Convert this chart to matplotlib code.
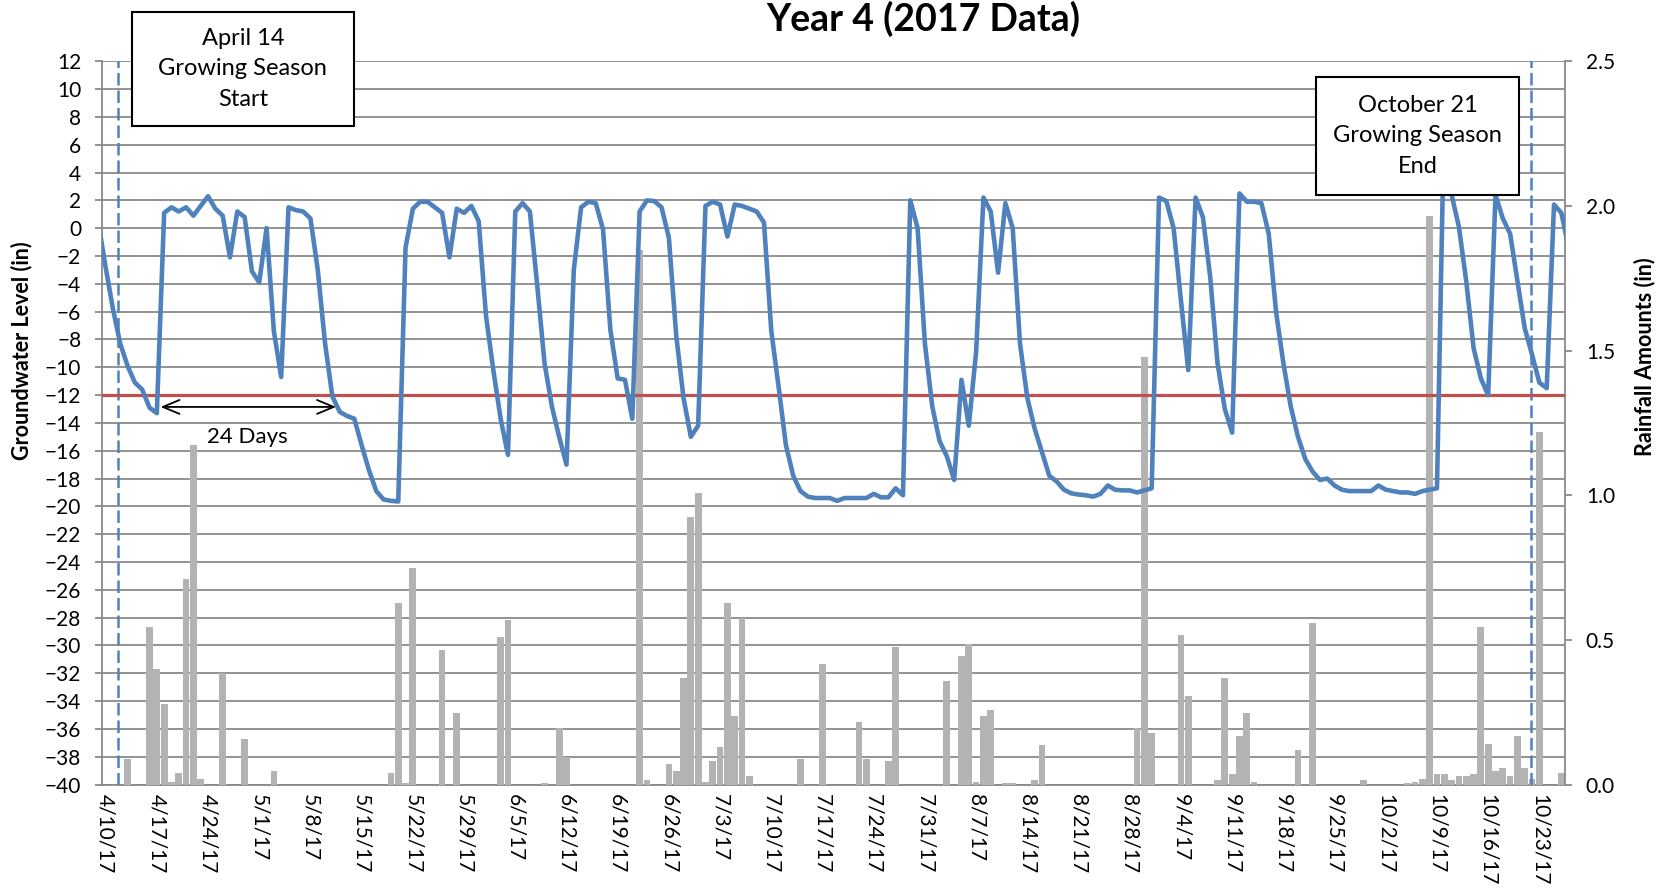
import numpy as np
import pandas as pd
import matplotlib
matplotlib.use("Agg")
import matplotlib.pyplot as plt
from matplotlib.patches import Rectangle
from matplotlib.ticker import FormatStrFormatter

plt.rcParams['font.family'] = ['Lato', 'DejaVu Sans']

# axis runs 4/10/17 .. 10/26/17, one slot per day
start = pd.Timestamp("2017-04-10")
n_days = 200

# daily groundwater level (in), 4/9/17 .. 10/27/17
gw_start = pd.Timestamp("2017-04-09")
groundwater = [
    0.4,
    -2.8, -5.8, -8.3, -9.9, -11.1, -11.6, -12.9,
    -13.3, 1.1, 1.5, 1.2, 1.5, 0.9, 1.6,
    2.3, 1.4, 0.9, -2.1, 1.2, 0.8, -3.1,
    -3.9, 0.0, -7.4, -10.7, 1.5, 1.3, 1.2,
    0.7, -3.0, -8.3, -12.1, -13.2, -13.5, -13.7,
    -15.6, -17.4, -18.9, -19.5, -19.6, -19.65, -1.4,
    1.4, 1.9, 1.9, 1.5, 1.1, -2.1, 1.4,
    1.1, 1.6, 0.5, -6.3, -10.2, -13.7, -16.3,
    1.2, 1.8, 1.2, -4.1, -9.7, -12.8, -15.0,
    -17.0, -3.0, 1.5, 1.9, 1.8, -0.1, -7.3,
    -10.8, -10.9, -13.7, 1.2, 2.0, 1.95, 1.5,
    -0.7, -7.7, -12.2, -15.0, -14.2, 1.6, 1.9,
    1.7, -0.6, 1.7, 1.6, 1.4, 1.2, 0.4,
    -7.4, -11.4, -15.6, -17.8, -18.9, -19.3, -19.4,
    -19.4, -19.4, -19.6, -19.4, -19.4, -19.4, -19.4,
    -19.1, -19.35, -19.35, -18.7, -19.2, 2.0, 0.0,
    -8.3, -12.8, -15.3, -16.4, -18.1, -10.9, -14.2,
    -8.9, 2.2, 1.2, -3.2, 1.8, 0.0, -8.3,
    -12.2, -14.4, -16.1, -17.8, -18.2, -18.8, -19.06,
    -19.15, -19.2, -19.3, -19.1, -18.5, -18.8, -18.85,
    -18.85, -19.0, -18.85, -18.7, 2.2, 1.95, 0.0,
    -5.2, -10.2, 2.2, 0.8, -3.5, -9.7, -13.0,
    -14.7, 2.5, 1.9, 1.9, 1.8, -0.4, -6.0,
    -9.7, -12.8, -15.0, -16.6, -17.5, -18.1, -18.0,
    -18.5, -18.8, -18.9, -18.9, -18.9, -18.9, -18.5,
    -18.8, -18.9, -19.0, -19.0, -19.1, -18.9, -18.8,
    -18.7, 8.5, 2.4, 0.1, -3.8, -8.6, -10.8,
    -12.0, 2.4, 0.7, -0.4, -3.8, -7.2, -9.1,
    -11.1, -11.5, 1.7, 1.1, -1.4,
]

# daily rainfall (in), days with rain only
rain_dates = [
    "4/13", "4/16", "4/17", "4/18", "4/19", "4/20", "4/21", "4/22", "4/23",
    "4/26", "4/29", "5/3", "5/19", "5/20", "5/21", "5/22", "5/26", "5/28",
    "6/3", "6/4", "6/9", "6/11", "6/12", "6/22", "6/23", "6/26", "6/27",
    "6/28", "6/29", "6/30", "7/1", "7/2", "7/3", "7/4", "7/5", "7/6", "7/7",
    "7/14", "7/17", "7/22", "7/23", "7/26", "7/27", "8/3", "8/5", "8/6",
    "8/7", "8/8", "8/9", "8/11", "8/12", "8/15", "8/16", "8/29", "8/30",
    "8/31", "9/4", "9/5", "9/9", "9/10", "9/11", "9/12", "9/13", "9/14",
    "9/20", "9/22", "9/29", "10/5", "10/6", "10/7", "10/8", "10/9", "10/10",
    "10/11", "10/12", "10/13", "10/14", "10/15", "10/16", "10/17", "10/18",
    "10/19", "10/20", "10/21", "10/22", "10/23", "10/26",
]
rain_in = [
    0.09, 0.546, 0.398, 0.277, 0.01, 0.04, 0.71, 1.175, 0.02,
    0.384, 0.159, 0.047, 0.04, 0.626, 0.007, 0.747, 0.466, 0.246,
    0.509, 0.568, 0.007, 0.197, 0.094, 1.848, 0.017, 0.07, 0.047,
    0.367, 0.926, 1.007, 0.01, 0.08, 0.13, 0.626, 0.237, 0.576, 0.03,
    0.087, 0.417, 0.217, 0.087, 0.08, 0.475, 0.357, 0.446, 0.486,
    0.01, 0.237, 0.257, 0.007, 0.007, 0.016, 0.136, 0.195, 1.478,
    0.179, 0.518, 0.307, 0.017, 0.367, 0.038, 0.168, 0.246, 0.01,
    0.118, 0.559, 0.017, 0.007, 0.01, 0.02, 1.965, 0.038, 0.038,
    0.015, 0.028, 0.03, 0.038, 0.546, 0.139, 0.047, 0.058,
    0.03, 0.168, 0.058, 0.02, 1.218, 0.04,
]

threshold = -12
season_marks = [1.7, 194.9]      # dashed season start / end lines (day offsets)
span_days = (7.5, 31.5)          # 24 day span above threshold

tick_dates = pd.date_range("2017-04-10", "2017-10-23", freq="7D")
tick_labels = [f"{d.month}/{d.day}/{d.year % 100}" for d in tick_dates]

gw_x = (pd.date_range(gw_start, periods=len(groundwater)) - start).days
rain_x = (pd.to_datetime([f"2017/{d}" for d in rain_dates]) - start).days
tick_x = (tick_dates - start).days

grey = '#8a8a8a'

fig = plt.figure(figsize=(16.58, 8.93), dpi=100)
ax = fig.add_axes([0.0615, 0.1214, 0.8824, 0.8100])

# left axis: groundwater scale + grid
ax.set_xlim(-0.5, n_days - 0.5)
ax.set_ylim(-40, 12)
ax.set_yticks(range(-40, 13, 2))
ax.grid(axis='y', color=grey, lw=1.3)
ax.set_axisbelow(True)
ax.set_xticks(tick_x)
ax.set_xticklabels(tick_labels, rotation=270, ha='center', va='top')
ax.tick_params(axis='x', length=0, pad=7, labelsize=15)
ax.tick_params(axis='y', direction='out', length=5, width=1.3, color=grey,
               pad=10, labelsize=15)
for s in ['top', 'right']:
    ax.spines[s].set_visible(False)
for s in ['left', 'bottom']:
    ax.spines[s].set_color(grey)
    ax.spines[s].set_linewidth(1.3)
fig.text(0.0127, 0.607, 'Groundwater Level (in)', rotation=90, ha='center',
         va='center', fontsize=15.5, fontweight='bold')

# right axis: rainfall bars
axr = ax.twinx()
axr.bar(rain_x, rain_in, width=0.92, color='#b3b3b3', zorder=2)
axr.set_ylim(0, 2.5)
axr.set_yticks(np.arange(0, 2.51, 0.5))
axr.yaxis.set_major_formatter(FormatStrFormatter('%.1f'))
axr.tick_params(axis='y', direction='out', length=5, width=1.3, color=grey,
                pad=10, labelsize=15)
for s in ['top', 'left', 'bottom']:
    axr.spines[s].set_visible(False)
axr.spines['right'].set_color(grey)
axr.spines['right'].set_linewidth(1.3)
fig.text(0.9916, 0.601, 'Rainfall Amounts (in)', rotation=90, ha='center',
         va='center', fontsize=15.5, fontweight='bold')

# overlay: groundwater line, threshold and annotations
axl = ax.twinx()
axl.set_ylim(-40, 12)
axl.axis('off')
for xm in season_marks:
    axl.axvline(xm, color='#4f81bd', lw=1.8, dashes=(5, 2), zorder=1)
axl.axhline(threshold, color='#c0504d', lw=2.3, zorder=2)
axl.plot(gw_x, groundwater, color='#4f81bd', lw=3.3,
         solid_joinstyle='round', zorder=3)

axl.annotate('', xy=(span_days[0], -12.85), xytext=(span_days[1], -12.85),
             arrowprops=dict(arrowstyle='<->,head_length=0.6,head_width=0.25',
                             color='black', lw=1.3, mutation_scale=20,
                             shrinkA=0, shrinkB=0))
axl.text(np.mean(span_days) - 0.1, -15.0, f'{int(span_days[1] - span_days[0])} Days',
         ha='center', va='center', fontsize=16)

boxes = [
    ((0.0205, 0.9108, 0.1517, 0.1579), 'April 14\nGrowing Season\nStart'),
    ((0.8300, 0.8157, 0.1388, 0.1623), 'October 21\nGrowing Season\nEnd'),
]
for (bx, by, bw, bh), label in boxes:
    axl.add_patch(Rectangle((bx, by), bw, bh, transform=axl.transAxes,
                            facecolor='white', edgecolor='black', lw=1.5,
                            clip_on=False, zorder=10))
    axl.text(bx + bw / 2, by + bh / 2, label, transform=axl.transAxes,
             ha='center', va='center', fontsize=17, linespacing=1.55,
             zorder=11, clip_on=False)

fig.text(0.5567, 0.979, 'Year 4 (2017 Data)', ha='center', va='center',
         fontsize=27, fontweight='bold')

fig.savefig('out.png', dpi=100)
